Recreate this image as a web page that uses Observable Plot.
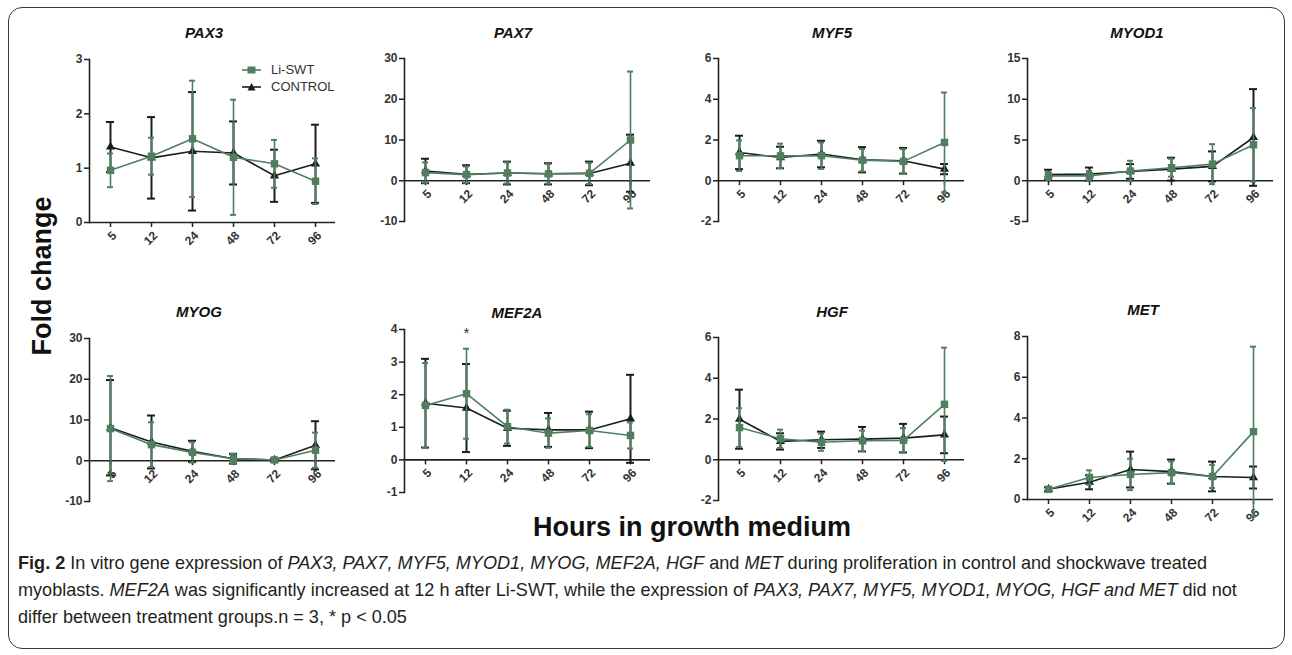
<!DOCTYPE html>
<html><head><meta charset="utf-8">
<script src="https://cdn.jsdelivr.net/npm/d3@7"></script>
<script src="https://cdn.jsdelivr.net/npm/@observablehq/plot@0.6"></script>
<style>
html,body{margin:0;padding:0;background:#fff}
body{width:1292px;height:655px;position:relative;overflow:hidden;font-family:"Liberation Sans",Arial,sans-serif;color:#222}
.border{position:absolute;left:8px;top:7px;width:1277px;height:642px;border:1.6px solid #3a3a3a;border-radius:14px;box-sizing:border-box}
.panel{position:absolute}
.panel svg{overflow:visible}
.title{position:absolute;font:italic bold 15px "Liberation Sans",Arial,sans-serif;transform:translate(-50%,-50%);white-space:nowrap;color:#111}
.ylab{position:absolute;left:42px;top:276px;transform:translate(-50%,-50%) rotate(-90deg);font:bold 27px "Liberation Sans",Arial,sans-serif;white-space:nowrap;color:#111}
.xlab{position:absolute;left:692px;top:527px;transform:translate(-50%,-50%);font:bold 27px "Liberation Sans",Arial,sans-serif;white-space:nowrap;color:#111}
.legend{position:absolute;left:242px;top:61px;font:13px "Liberation Sans",Arial,sans-serif;color:#333}
.legend div{height:17px;display:flex;align-items:center}
.legend svg{margin-right:10px}
.caption{position:absolute;left:18px;top:550px;font-family:"Liberation Sans Narrow","Liberation Sans",Arial,sans-serif;font-size:20px;line-height:27px;color:#231f20}
.caption div{white-space:nowrap}
</style></head><body>
<div class="border"></div>
<div id="root"></div>
<div class="ylab">Fold change</div>
<div class="xlab">Hours in growth medium</div>
<div class="legend">
  <div><svg width="19" height="10"><line x1="0" y1="5" x2="19" y2="5" stroke="#4f7f5f" stroke-width="1.6"/><rect x="5.5" y="1.5" width="8" height="7" fill="#4f7f5f"/></svg>Li-SWT</div>
  <div><svg width="19" height="10"><line x1="0" y1="5" x2="19" y2="5" stroke="#1c1c1c" stroke-width="1.6"/><path d="M9.5,1 L13.5,8.5 L5.5,8.5 Z" fill="#1c1c1c"/></svg>CONTROL</div>
</div>
<div class="caption" id="cap">
  <div id="cap1"><b>Fig. 2</b> In vitro gene expression of <i>PAX3, PAX7, MYF5, MYOD1, MYOG, MEF2A, HGF</i> and <i>MET</i> during proliferation in control and shockwave treated</div>
  <div>myoblasts. <i>MEF2A</i> was significantly increased at 12 h after Li-SWT, while the expression of <i>PAX3, PAX7, MYF5, MYOD1, MYOG, HGF and MET</i> did not</div>
  <div>differ between treatment groups.n = 3, * p &lt; 0.05</div>
</div>
<script>
// ---------- data ----------
const hours = ["5", "12", "24", "48", "72", "96"];

const pax3_li_mean   = [0.96, 1.22, 1.54, 1.20, 1.08, 0.76];
const pax3_li_sd     = [0.31, 0.34, 1.07, 1.06, 0.44, 0.42];
const pax3_ctrl_mean = [1.39, 1.19, 1.31, 1.28, 0.86, 1.08];
const pax3_ctrl_sd   = [0.46, 0.75, 1.09, 0.58, 0.48, 0.72];

const pax7_li_mean   = [2.0, 1.5, 1.9, 1.7, 1.8, 10.0];
const pax7_li_sd     = [2.5, 2.0, 2.6, 2.4, 2.6, 16.8];
const pax7_ctrl_mean = [2.4, 1.6, 1.9, 1.7, 1.8, 4.3];
const pax7_ctrl_sd   = [3.0, 2.2, 2.8, 2.6, 2.9, 7.0];

const myf5_li_mean   = [1.23, 1.22, 1.23, 1.01, 0.95, 1.88];
const myf5_li_sd     = [0.75, 0.60, 0.65, 0.55, 0.60, 2.45];
const myf5_ctrl_mean = [1.39, 1.14, 1.31, 1.03, 0.98, 0.57];
const myf5_ctrl_sd   = [0.82, 0.53, 0.65, 0.62, 0.63, 0.25];

const myod1_li_mean   = [0.60, 0.60, 1.20, 1.60, 2.04, 4.41];
const myod1_li_sd     = [0.50, 0.60, 1.25, 1.10, 2.45, 4.50];
const myod1_ctrl_mean = [0.75, 0.82, 1.14, 1.43, 1.76, 5.31];
const myod1_ctrl_sd   = [0.60, 0.80, 0.90, 1.40, 1.84, 5.93];

const myog_li_mean   = [7.9, 3.95, 2.06, 0.5, 0.2, 2.6];
const myog_li_sd     = [12.9, 5.5, 2.5, 1.2, 0.3, 4.3];
const myog_ctrl_mean = [8.1, 4.6, 2.3, 0.5, 0.2, 3.8];
const myog_ctrl_sd   = [11.7, 6.5, 2.6, 1.2, 0.3, 5.9];

const mef2a_li_mean   = [1.67, 2.03, 1.02, 0.82, 0.90, 0.75];
const mef2a_li_sd     = [1.30, 1.38, 0.52, 0.45, 0.50, 0.40];
const mef2a_ctrl_mean = [1.74, 1.59, 0.97, 0.92, 0.92, 1.26];
const mef2a_ctrl_sd   = [1.36, 1.35, 0.54, 0.52, 0.56, 1.35];

const hgf_li_mean   = [1.58, 1.03, 0.86, 0.93, 0.95, 2.72];
const hgf_li_sd     = [0.95, 0.45, 0.42, 0.50, 0.60, 2.78];
const hgf_ctrl_mean = [1.99, 0.90, 0.98, 1.01, 1.06, 1.22];
const hgf_ctrl_sd   = [1.45, 0.40, 0.40, 0.60, 0.70, 0.90];

const met_li_mean   = [0.50, 1.08, 1.23, 1.32, 1.13, 3.33];
const met_li_sd     = [0.10, 0.35, 0.77, 0.55, 0.57, 4.17];
const met_ctrl_mean = [0.50, 0.85, 1.47, 1.37, 1.13, 1.08];
const met_ctrl_sd   = [0.10, 0.35, 0.88, 0.59, 0.73, 0.54];

const genes = ["PAX3", "PAX7", "MYF5", "MYOD1", "MYOG", "MEF2A", "HGF", "MET"];
const yDomains = [[0, 3], [-10, 30], [-2, 6], [-5, 15], [-10, 30], [-1, 4], [-2, 6], [0, 8]];
const yTicks = [
  [0, 1, 2, 3], [-10, 0, 10, 20, 30], [-2, 0, 2, 4, 6], [-5, 0, 5, 10, 15],
  [-10, 0, 10, 20, 30], [-1, 0, 1, 2, 3, 4], [-2, 0, 2, 4, 6], [0, 2, 4, 6, 8]
];
const liMeans = [pax3_li_mean, pax7_li_mean, myf5_li_mean, myod1_li_mean, myog_li_mean, mef2a_li_mean, hgf_li_mean, met_li_mean];
const liSds = [pax3_li_sd, pax7_li_sd, myf5_li_sd, myod1_li_sd, myog_li_sd, mef2a_li_sd, hgf_li_sd, met_li_sd];
const ctrlMeans = [pax3_ctrl_mean, pax7_ctrl_mean, myf5_ctrl_mean, myod1_ctrl_mean, myog_ctrl_mean, mef2a_ctrl_mean, hgf_ctrl_mean, met_ctrl_mean];
const ctrlSds = [pax3_ctrl_sd, pax7_ctrl_sd, myf5_ctrl_sd, myod1_ctrl_sd, myog_ctrl_sd, mef2a_ctrl_sd, hgf_ctrl_sd, met_ctrl_sd];

// significance marker (MEF2A at 12 h)
const stars = [{gene: "MEF2A", hour: "12", y: 3.9, label: "*"}];

// ---------- layout ----------
const GREEN = "#4f7f5f", BLACK = "#1c1c1c", AXIS = "#222";
const FW = 246, FH = 163;            // plot frame size
const ML = 42, MR = 8, MT = 14, MB = 48;
const layout = [
  {axisX: 89,   frameTop: 59,  tx: 204,  ty: 32},
  {axisX: 404,  frameTop: 58,  tx: 513,  ty: 32},
  {axisX: 718,  frameTop: 58,  tx: 832,  ty: 32},
  {axisX: 1027, frameTop: 58,  tx: 1137, ty: 32},
  {axisX: 89,   frameTop: 338, tx: 199,  ty: 311},
  {axisX: 404,  frameTop: 329, tx: 517,  ty: 312},
  {axisX: 718,  frameTop: 337, tx: 832,  ty: 311},
  {axisX: 1027, frameTop: 336, tx: 1143, ty: 309}
];

const root = document.getElementById("root");

genes.forEach((gene, gi) => {
  const rows = (m, s) => hours.map((h, i) => ({hour: h, m: m[i], lo: m[i] - s[i], hi: m[i] + s[i]}));
  const C = rows(ctrlMeans[gi], ctrlSds[gi]);
  const L = rows(liMeans[gi], liSds[gi]);

  const seriesMarks = (data, color, symbol, r, capW, sw) => [
    Plot.ruleX(data, {x: "hour", y1: "lo", y2: "hi", stroke: color, strokeWidth: sw}),
    Plot.ruleY(data, {x1: "hour", x2: "hour", y: "hi", stroke: color, strokeWidth: 2, insetLeft: -capW, insetRight: -capW}),
    Plot.ruleY(data, {x1: "hour", x2: "hour", y: "lo", stroke: color, strokeWidth: 2, insetLeft: -capW, insetRight: -capW}),
    Plot.line(data, {x: "hour", y: "m", stroke: color, strokeWidth: 1.6}),
    Plot.dot(data, {x: "hour", y: "m", symbol, r, fill: color, stroke: null})
  ];

  const chart = Plot.plot({
    width: ML + FW + MR,
    height: MT + FH + MB,
    marginLeft: ML, marginRight: MR, marginTop: MT, marginBottom: MB,
    style: {fontFamily: "'Liberation Sans', Arial, sans-serif", fontSize: "12px", fontWeight: "bold", color: AXIS, background: "transparent", overflow: "visible"},
    x: {type: "point", domain: hours, padding: 0.5, axis: null},
    y: {domain: yDomains[gi]},
    marks: [
      Plot.axisY({ticks: yTicks[gi], tickSize: 5, tickPadding: 2, strokeWidth: 1.5, fill: "#333", tickFormat: d => d < 0 ? "-" + Math.abs(d) : String(d)}),
      Plot.frame({anchor: "left", stroke: AXIS, strokeWidth: 1.6}),
      Plot.ruleY([0], {stroke: AXIS, strokeWidth: 1.6}),
      Plot.ruleX(hours, {x: d => d, y1: () => 0, y2: () => 0, insetBottom: -5, stroke: AXIS, strokeWidth: 1.5}),
      Plot.text(hours, {x: d => d, y: () => 0, text: d => d, rotate: -45, textAnchor: "end", lineAnchor: "middle", dx: 4, dy: 11, fill: "#333"}),
      ...seriesMarks(C, BLACK, "triangle", 3.4, 4, 2),
      ...seriesMarks(L, GREEN, "square", 4.2, 3, 1.6),
      Plot.text(stars.filter(s => s.gene === gene), {x: "hour", y: "y", text: "label", fontSize: 15, fontWeight: "normal", fill: "#333"})
    ]
  });

  const lay = layout[gi];
  const wrap = document.createElement("div");
  wrap.className = "panel";
  wrap.style.left = (lay.axisX - ML) + "px";
  wrap.style.top = (lay.frameTop - MT) + "px";
  wrap.appendChild(chart);
  root.appendChild(wrap);

  const t = document.createElement("div");
  t.className = "title";
  t.textContent = gene;
  t.style.left = lay.tx + "px";
  t.style.top = lay.ty + "px";
  root.appendChild(t);
});

// fit caption line width to the figure width
const cap1 = document.getElementById("cap1");
const target = 1219;
const w = cap1.getBoundingClientRect().width;
const cap = document.getElementById("cap");
cap.style.fontSize = (20 * target / w).toFixed(2) + "px";
</script>
</body></html>
